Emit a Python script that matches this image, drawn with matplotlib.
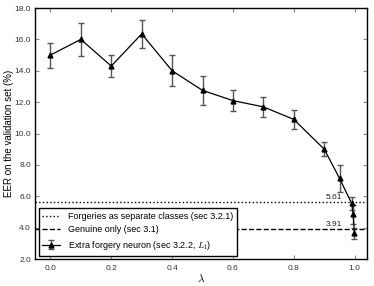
import matplotlib
matplotlib.use("Agg")
import matplotlib.pyplot as plt
from matplotlib.ticker import FormatStrFormatter

lam = [0.0, 0.1, 0.2, 0.3, 0.4, 0.5, 0.6, 0.7, 0.8, 0.9, 0.95, 0.99, 0.995, 0.999]
eer = [15.0, 16.0, 14.3, 16.35, 14.0, 12.75, 12.1, 11.7, 10.9, 9.0, 7.15, 5.55, 4.85, 3.65]
err = [0.8, 1.05, 0.7, 0.9, 1.0, 0.9, 0.65, 0.65, 0.6, 0.45, 0.85, 0.4, 0.6, 0.35]
forgeries_sep = 5.61
genuine_only = 3.91

plt.rcParams['font.family'] = ['Liberation Sans', 'DejaVu Sans']
plt.rcParams['mathtext.fontset'] = 'cm'

fig = plt.figure(figsize=(3.74, 2.86), dpi=100)
ax = fig.add_axes([0.094, 0.094, 0.887, 0.878])

ax.axhline(forgeries_sep, color='black', linestyle=':', linewidth=1.0,
           label='Forgeries as separate classes (sec 3.2.1)')
ax.axhline(genuine_only, color='black', linestyle='--', linewidth=1.0,
           label='Genuine only (sec 3.1)')
ax.errorbar(lam, eer, yerr=err, color='black', marker='^', markersize=3.5,
            linewidth=0.9, ecolor='#555555', elinewidth=1.0, capsize=2.5,
            label='Extra forgery neuron (sec 3.2.2, $L_1$)')

ax.text(0.905, forgeries_sep + 0.08, '%.2f' % forgeries_sep, fontsize=6,
        va='bottom', ha='left', color='#222222')
ax.text(0.905, genuine_only + 0.08, '%.2f' % genuine_only, fontsize=6,
        va='bottom', ha='left', color='#222222')

ax.set_xlim(-0.05, 1.04)
ax.set_ylim(2.0, 18.0)
ax.set_xticks([0.0, 0.2, 0.4, 0.6, 0.8, 1.0])
ax.set_yticks([2, 4, 6, 8, 10, 12, 14, 16, 18])
ax.xaxis.set_major_formatter(FormatStrFormatter('%.1f'))
ax.yaxis.set_major_formatter(FormatStrFormatter('%.1f'))
ax.tick_params(direction='in', top=True, right=True, labelsize=6, length=3,
               color='#888888', labelcolor='#333333')
ax.tick_params(axis='y', pad=3)
ax.tick_params(axis='x', pad=4)
for s in ax.spines.values():
    s.set_linewidth(1.0)

ax.set_xlabel(r'$\lambda$', fontsize=8)
ax.set_ylabel('EER on the validation set (%)', fontsize=7)
ax.xaxis.set_label_coords(0.5, -0.055)
ax.yaxis.set_label_coords(-0.065, 0.5)

leg = ax.legend(loc='lower left', fontsize=6.5, fancybox=False, framealpha=1,
                edgecolor='black', borderaxespad=0.4, handlelength=2.0)
leg.get_frame().set_linewidth(1.0)

fig.savefig('out.png', dpi=100)
